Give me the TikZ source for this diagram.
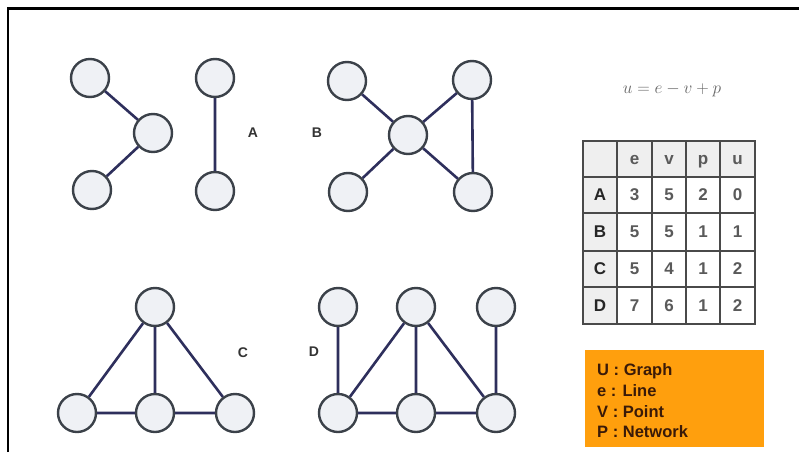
\documentclass[tikz,border=0pt]{standalone}
\usepackage{fontspec}
\setmainfont{Liberation Sans}
\definecolor{nodefill}{HTML}{EFF1F5}
\definecolor{nodeline}{HTML}{3B4149}
\definecolor{edgecol}{HTML}{2E2F5C}
\definecolor{cellgray}{HTML}{EFEFEF}
\definecolor{gridcol}{HTML}{4A4A4A}
\definecolor{numcol}{HTML}{5A5A5A}
\definecolor{orangebox}{HTML}{FF9F0D}
\definecolor{legendtext}{HTML}{3A1A08}
\tikzset{
  vtx/.style={circle, draw=nodeline, line width=2.4pt, fill=nodefill, minimum size=38pt, inner sep=0pt},
  edge/.style={draw=edgecol, line width=2.6pt},
  glabel/.style={font=\fontsize{14}{14}\selectfont\bfseries, text=black!80},
  tcell/.style={font=\fontsize{17}{17}\selectfont\bfseries, text=numcol, inner sep=0pt},
  thead/.style={font=\fontsize{17}{17}\selectfont\bfseries, text=black!85, inner sep=0pt},
  hcell/.style={tcell, anchor=base},
  legend/.style={font=\fontsize{16.5}{16.5}\selectfont\bfseries, text=legendtext, anchor=west, inner sep=0pt}
}
\begin{document}
\begin{tikzpicture}[x=1pt,y=-1pt]
\useasboundingbox (0,0) rectangle (799,452);
\fill[white] (0,0) rectangle (799,452);
% frame
\draw[line width=2.2pt, black] (8,452) -- (8,8.5) -- (799,8.5);

% graph A
\node[vtx] (a1) at (90,78) {};
\node[vtx] (a2) at (153,133) {};
\node[vtx] (a3) at (92,190) {};
\node[vtx] (a4) at (215,78) {};
\node[vtx] (a5) at (215,191) {};
\draw[edge] (a1) -- (a2) (a3) -- (a2) (a4) -- (a5);
\node[glabel] (la) at (253,133) {A};

% graph B
\node[glabel] (lb) at (317,133) {B};
\node[vtx] (b1) at (347,81) {};
\node[vtx] (b2) at (472,80) {};
\node[vtx] (b3) at (408,135) {};
\node[vtx] (b4) at (348,192) {};
\node[vtx] (b5) at (473,192) {};
\draw[edge] (b1) -- (b3) (b2) -- (b3) (b4) -- (b3) (b5) -- (b3) (b2) -- (b5);

% graph C
\node[vtx] (c1) at (155,307) {};
\node[vtx] (c2) at (77,413) {};
\node[vtx] (c3) at (155,413) {};
\node[vtx] (c4) at (235,413) {};
\draw[edge] (c1) -- (c2) (c1) -- (c3) (c1) -- (c4) (c2) -- (c3) (c3) -- (c4);
\node[glabel] (lc) at (243,353) {C};

% graph D
\node[glabel] (ld) at (314,352) {D};
\node[vtx] (d1) at (338,307) {};
\node[vtx] (d2) at (416,307) {};
\node[vtx] (d3) at (496,307) {};
\node[vtx] (d4) at (338,413) {};
\node[vtx] (d5) at (416,413) {};
\node[vtx] (d6) at (496,413) {};
\draw[edge] (d1) -- (d4) (d3) -- (d6) (d2) -- (d4) (d2) -- (d5) (d2) -- (d6) (d4) -- (d5) (d5) -- (d6);

% formula
\node[text=black!60, font=\fontsize{16.5}{16.5}\selectfont] (formula) at (672,90) {$u=e-v+p$};

% table
\fill[cellgray] (583,141) rectangle (755,177);
\fill[cellgray] (583,141) rectangle (617,324);
\draw[gridcol, line width=1.8pt] (583,141) rectangle (755,324);
\foreach \xx in {617,652,686,720} \draw[gridcol, line width=1.4pt] (\xx,141) -- (\xx,324);
\foreach \yy in {177,213,251,287} \draw[gridcol, line width=1.4pt] (583,\yy) -- (755,\yy);
\node[hcell] (he) at (634.5,164.5) {e};
\node[hcell] (hv) at (669,164.5) {v};
\node[hcell] (hp) at (703,164.5) {p};
\node[hcell] (hu) at (737.5,164.5) {u};
\node[thead] (rA) at (600,195) {A};
\node[thead] (rB) at (600,232) {B};
\node[thead] (rC) at (600,269) {C};
\node[thead] (rD) at (600,305.5) {D};
\node[tcell] (a-e) at (634.5,195) {3};
\node[tcell] (a-v) at (669,195) {5};
\node[tcell] (a-p) at (703,195) {2};
\node[tcell] (a-u) at (737.5,195) {0};
\node[tcell] (b-e) at (634.5,232) {5};
\node[tcell] (b-v) at (669,232) {5};
\node[tcell] (b-p) at (703,232) {1};
\node[tcell] (b-u) at (737.5,232) {1};
\node[tcell] (c-e) at (634.5,269) {5};
\node[tcell] (c-v) at (669,269) {4};
\node[tcell] (c-p) at (703,269) {1};
\node[tcell] (c-u) at (737.5,269) {2};
\node[tcell] (d-e) at (634.5,305.5) {7};
\node[tcell] (d-v) at (669,305.5) {6};
\node[tcell] (d-p) at (703,305.5) {1};
\node[tcell] (d-u) at (737.5,305.5) {2};

% legend box
\fill[orangebox] (585,350) rectangle (764,447);
\node[legend] (l1) at (597,371) {U : Graph};
\node[legend] (l2) at (597,391) {e : Line};
\node[legend] (l3) at (597,411.5) {V : Point};
\node[legend] (l4) at (597,432) {P : Network};
\end{tikzpicture}
\end{document}
